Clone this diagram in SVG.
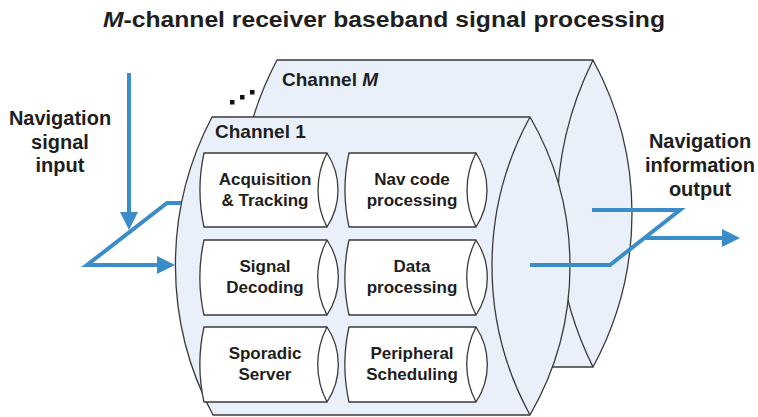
<svg xmlns="http://www.w3.org/2000/svg" width="758" height="417" viewBox="0 0 758 417">
<defs>
<style>
.cyl{fill:#e9f0f9;stroke:#3a3a3a;stroke-width:1.3}
.ln{fill:none;stroke:#3a3a3a;stroke-width:1.3}
.box{fill:#ffffff;stroke:#3a3a3a;stroke-width:1.3}
.t{font-family:"Liberation Sans",Arial,sans-serif;font-weight:bold;fill:#1e1e1e}
.bt{font-size:17px;text-anchor:middle}
.lab{font-size:20px;text-anchor:middle}
.ch{font-size:19px}
.arr{fill:none;stroke:#3a8dc8;stroke-width:4;stroke-linejoin:miter}
</style>
<marker id="ah" viewBox="0 0 18 18" refX="2" refY="9" markerWidth="18" markerHeight="18" markerUnits="userSpaceOnUse" orient="auto">
<path d="M0,0 L18,9 L0,18 z" fill="#3a8dc8"/>
</marker>
</defs>
<rect width="758" height="417" fill="#ffffff"/>
<text class="t" x="384" y="27" font-size="22" text-anchor="middle" textLength="562" lengthAdjust="spacingAndGlyphs"><tspan font-style="italic">M</tspan>-channel receiver baseband signal processing</text>

<g id="channel-M">
<path class="cyl" d="M277,60 H593 A321.6,321.6 0 0 1 593,367 H277 A329,329 0 0 1 277,60 Z"/>
<path class="ln" d="M593,60 A345.3,345.3 0 0 0 593,367"/>
<text class="t ch" x="282" y="86">Channel <tspan font-style="italic">M</tspan></text>
</g>
<g id="dots" fill="#111">
<rect x="230" y="100" width="4.5" height="4.5"/>
<rect x="240" y="95" width="4.5" height="4.5"/>
<rect x="250" y="90" width="4.5" height="4.5"/>
</g>

<g id="channel-1">
<path class="cyl" d="M212,117 H530 A297.5,297.5 0 0 1 530,415 H213 A318,318 0 0 1 212,117 Z"/>
<path class="ln" d="M530,117 A311,311 0 0 0 530,415"/>
<text class="t ch" x="215" y="138">Channel 1</text>
</g>

<g id="acq">
<path class="box" d="M204,153 H327 A67.7,67.7 0 0 1 327,227 H204 A173,173 0 0 1 204,153 Z"/>
<path class="ln" d="M327,153 A80.6,80.6 0 0 0 327,227"/>
<text class="t bt" x="265" y="185">Acquisition</text>
<text class="t bt" x="265" y="206">&amp; Tracking</text>
</g>
<g id="navcode">
<path class="box" d="M349,153 H476 A67.7,67.7 0 0 1 476,227 H349 A173,173 0 0 1 349,153 Z"/>
<path class="ln" d="M476,153 A80.6,80.6 0 0 0 476,227"/>
<text class="t bt" x="412" y="185">Nav code</text>
<text class="t bt" x="412" y="206">processing</text>
</g>
<g id="sigdec">
<path class="box" d="M204,240 H327 A67.7,67.7 0 0 1 327,315 H204 A173,173 0 0 1 204,240 Z"/>
<path class="ln" d="M327,240 A80.6,80.6 0 0 0 327,315"/>
<text class="t bt" x="265" y="272">Signal</text>
<text class="t bt" x="265" y="293">Decoding</text>
</g>
<g id="dataproc">
<path class="box" d="M349,240 H476 A67.7,67.7 0 0 1 476,315 H349 A173,173 0 0 1 349,240 Z"/>
<path class="ln" d="M476,240 A80.6,80.6 0 0 0 476,315"/>
<text class="t bt" x="412" y="272">Data</text>
<text class="t bt" x="412" y="293">processing</text>
</g>
<g id="sporadic">
<path class="box" d="M204,327 H327 A67.7,67.7 0 0 1 327,402 H204 A173,173 0 0 1 204,327 Z"/>
<path class="ln" d="M327,327 A80.6,80.6 0 0 0 327,402"/>
<text class="t bt" x="265" y="359">Sporadic</text>
<text class="t bt" x="265" y="380">Server</text>
</g>
<g id="periph">
<path class="box" d="M349,327 H476 A67.7,67.7 0 0 1 476,402 H349 A173,173 0 0 1 349,327 Z"/>
<path class="ln" d="M476,327 A80.6,80.6 0 0 0 476,402"/>
<text class="t bt" x="412" y="359">Peripheral</text>
<text class="t bt" x="412" y="380">Scheduling</text>
</g>

<g id="input-label">
<text class="t lab" x="60" y="125">Navigation</text>
<text class="t lab" x="60" y="149">signal</text>
<text class="t lab" x="60" y="172">input</text>
</g>
<g id="output-label">
<text class="t lab" x="700" y="148">Navigation</text>
<text class="t lab" x="700" y="172">information</text>
<text class="t lab" x="700" y="196">output</text>
</g>

<g id="connectors">
<path class="arr" d="M129,73 V214" marker-end="url(#ah)"/>
<path class="arr" d="M181,203 H167 L87,265 H159" marker-end="url(#ah)"/>
<path class="arr" d="M592,210 H680 L610,265 H530"/>
<path class="arr" d="M645,238 H724" marker-end="url(#ah)"/>
</g>
</svg>
